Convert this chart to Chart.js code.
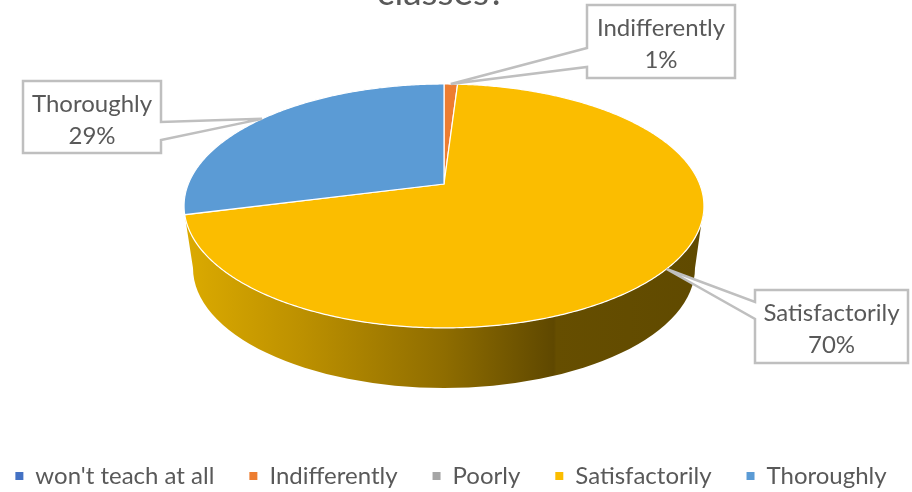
<!DOCTYPE html>
<html>
<head>
<meta charset="utf-8">
<title>classes?</title>
<script src="https://cdn.jsdelivr.net/npm/chart.js@4"></script>
<style>
  html, body { margin: 0; padding: 0; background: #fff; overflow: hidden; }
  canvas { display: block; filter: blur(0.45px); }
</style>
</head>
<body>
<!-- wider than the window so the legend keeps one row at this font size -->
<canvas id="pieChart" width="980" height="492"></canvas>
<script>
// data
const categories = ["won't teach at all", 'Indifferently', 'Poorly', 'Satisfactorily', 'Thoroughly'];
const shares = [0, 1, 0, 70, 29];
const sliceColors = ['#4472c4', '#ed7d31', '#a5a5a5', '#fbbd00', '#5b9bd5'];
const titleText = 'classes?';

// perspective of the tilted pie
const APEX_X = 444, APEX_Y = 184;
const RX = 255.7, RY = 118, TILT = -0.18;
const TEXT_COLOR = '#595959';
const LABEL_FONT = '24px Lato';

// callout boxes: category index, box, pointer base on the box's near edge
const callouts = [
  { index: 1, left: 587, top: 5, right: 735, bottom: 78, edgeX: 587, y1: 48, y2: 67 },
  { index: 3, left: 755, top: 290, right: 908, bottom: 363, edgeX: 755, y1: 302, y2: 319 },
  { index: 4, left: 23, top: 81, right: 161, bottom: 153, edgeX: 161, y1: 122, y2: 140 }
];

// slice angle (chart.js radians) -> point on the tilted top face
function project(angle, radius = 1) {
  const x = Math.cos(angle) * radius;
  const y = Math.sin(angle) * radius;
  const d = 1 + TILT * y;
  return { x: APEX_X + RX * x / d, y: APEX_Y + RY * y / d };
}

function traceEdge(ctx, from, to) {
  const steps = Math.max(2, Math.ceil(Math.abs(to - from) / 0.01));
  for (let i = 0; i <= steps; i++) {
    const p = project(from + (to - from) * i / steps);
    ctx.lineTo(p.x, p.y);
  }
}

const tiltedPie = {
  id: 'tiltedPie',
  afterLayout(chart) {
    // title runs off the top of the picture, legend sits low and left of canvas centre
    const t = chart.titleBlock;
    t.top -= 29; t.bottom -= 29; t.left -= 49; t.right -= 49;
    const l = chart.legend;
    l.left -= 39; l.right -= 39; l.top += 6; l.bottom += 6;
  },
  beforeDatasetDraw(chart) {
    const ctx = chart.ctx;
    const arcs = chart.getDatasetMeta(0).data;

    // side wall under the biggest slice
    const wallEnd = arcs[3].endAngle;
    const grad = ctx.createLinearGradient(187, 0, 700, 0);
    grad.addColorStop(0, '#dbaa00');
    grad.addColorStop(0.22, '#bd9100');
    grad.addColorStop(0.5, '#8f6d00');
    grad.addColorStop(0.715, '#5f4800');
    grad.addColorStop(0.72, '#664e00');
    grad.addColorStop(1, '#604a00');
    ctx.save();
    ctx.beginPath();
    ctx.ellipse(444, 268, 251, 120, 0, Math.PI, 0, true);
    traceEdge(ctx, 0.175, wallEnd);
    ctx.closePath();
    ctx.fillStyle = grad;
    ctx.fill();

    // top face
    arcs.forEach((arc, i) => {
      if (shares[i] === 0) return;
      ctx.beginPath();
      ctx.moveTo(APEX_X, APEX_Y);
      traceEdge(ctx, arc.startAngle, arc.endAngle);
      ctx.closePath();
      ctx.fillStyle = sliceColors[i];
      ctx.fill();
      ctx.strokeStyle = '#fff';
      ctx.lineWidth = 1.2;
      ctx.stroke();
    });
    ctx.restore();
    return false;
  },
  afterDatasetsDraw(chart) {
    const ctx = chart.ctx;
    const arcs = chart.getDatasetMeta(0).data;
    ctx.save();
    callouts.forEach(c => {
      const arc = arcs[c.index];
      const tip = project((arc.startAngle + arc.endAngle) / 2);
      ctx.beginPath();
      if (c.edgeX === c.left) {
        ctx.moveTo(c.left, c.top);
        ctx.lineTo(c.right, c.top);
        ctx.lineTo(c.right, c.bottom);
        ctx.lineTo(c.left, c.bottom);
        ctx.lineTo(c.left, c.y2);
        ctx.lineTo(tip.x, tip.y);
        ctx.lineTo(c.left, c.y1);
      } else {
        ctx.moveTo(c.left, c.top);
        ctx.lineTo(c.right, c.top);
        ctx.lineTo(c.right, c.y1);
        ctx.lineTo(tip.x, tip.y);
        ctx.lineTo(c.right, c.y2);
        ctx.lineTo(c.right, c.bottom);
        ctx.lineTo(c.left, c.bottom);
      }
      ctx.closePath();
      ctx.fillStyle = '#fff';
      ctx.fill();
      ctx.strokeStyle = '#bfbfbf';
      ctx.lineWidth = 2.5;
      ctx.stroke();

      const mid = (c.left + c.right) / 2;
      ctx.fillStyle = TEXT_COLOR;
      ctx.font = LABEL_FONT;
      ctx.textAlign = 'center';
      ctx.textBaseline = 'middle';
      ctx.fillText(categories[c.index], mid, c.top + 23);
      ctx.fillText(shares[c.index] + '%', mid, c.top + 55);
    });
    ctx.restore();
  }
};

new Chart(document.getElementById('pieChart'), {
  type: 'pie',
  data: {
    labels: categories,
    datasets: [{
      data: shares,
      backgroundColor: sliceColors,
      borderWidth: 0
    }]
  },
  options: {
    responsive: false,
    animation: false,
    plugins: {
      title: {
        display: true,
        text: titleText,
        color: TEXT_COLOR,
        font: { family: 'Lato', size: 37, weight: 'normal' },
        padding: 0
      },
      legend: {
        position: 'bottom',
        labels: {
          color: TEXT_COLOR,
          font: { family: 'Lato', size: 24 },
          boxWidth: 8,
          boxHeight: 8,
          padding: 35
        }
      },
      tooltip: { enabled: false }
    }
  },
  plugins: [tiltedPie]
});
</script>
</body>
</html>
